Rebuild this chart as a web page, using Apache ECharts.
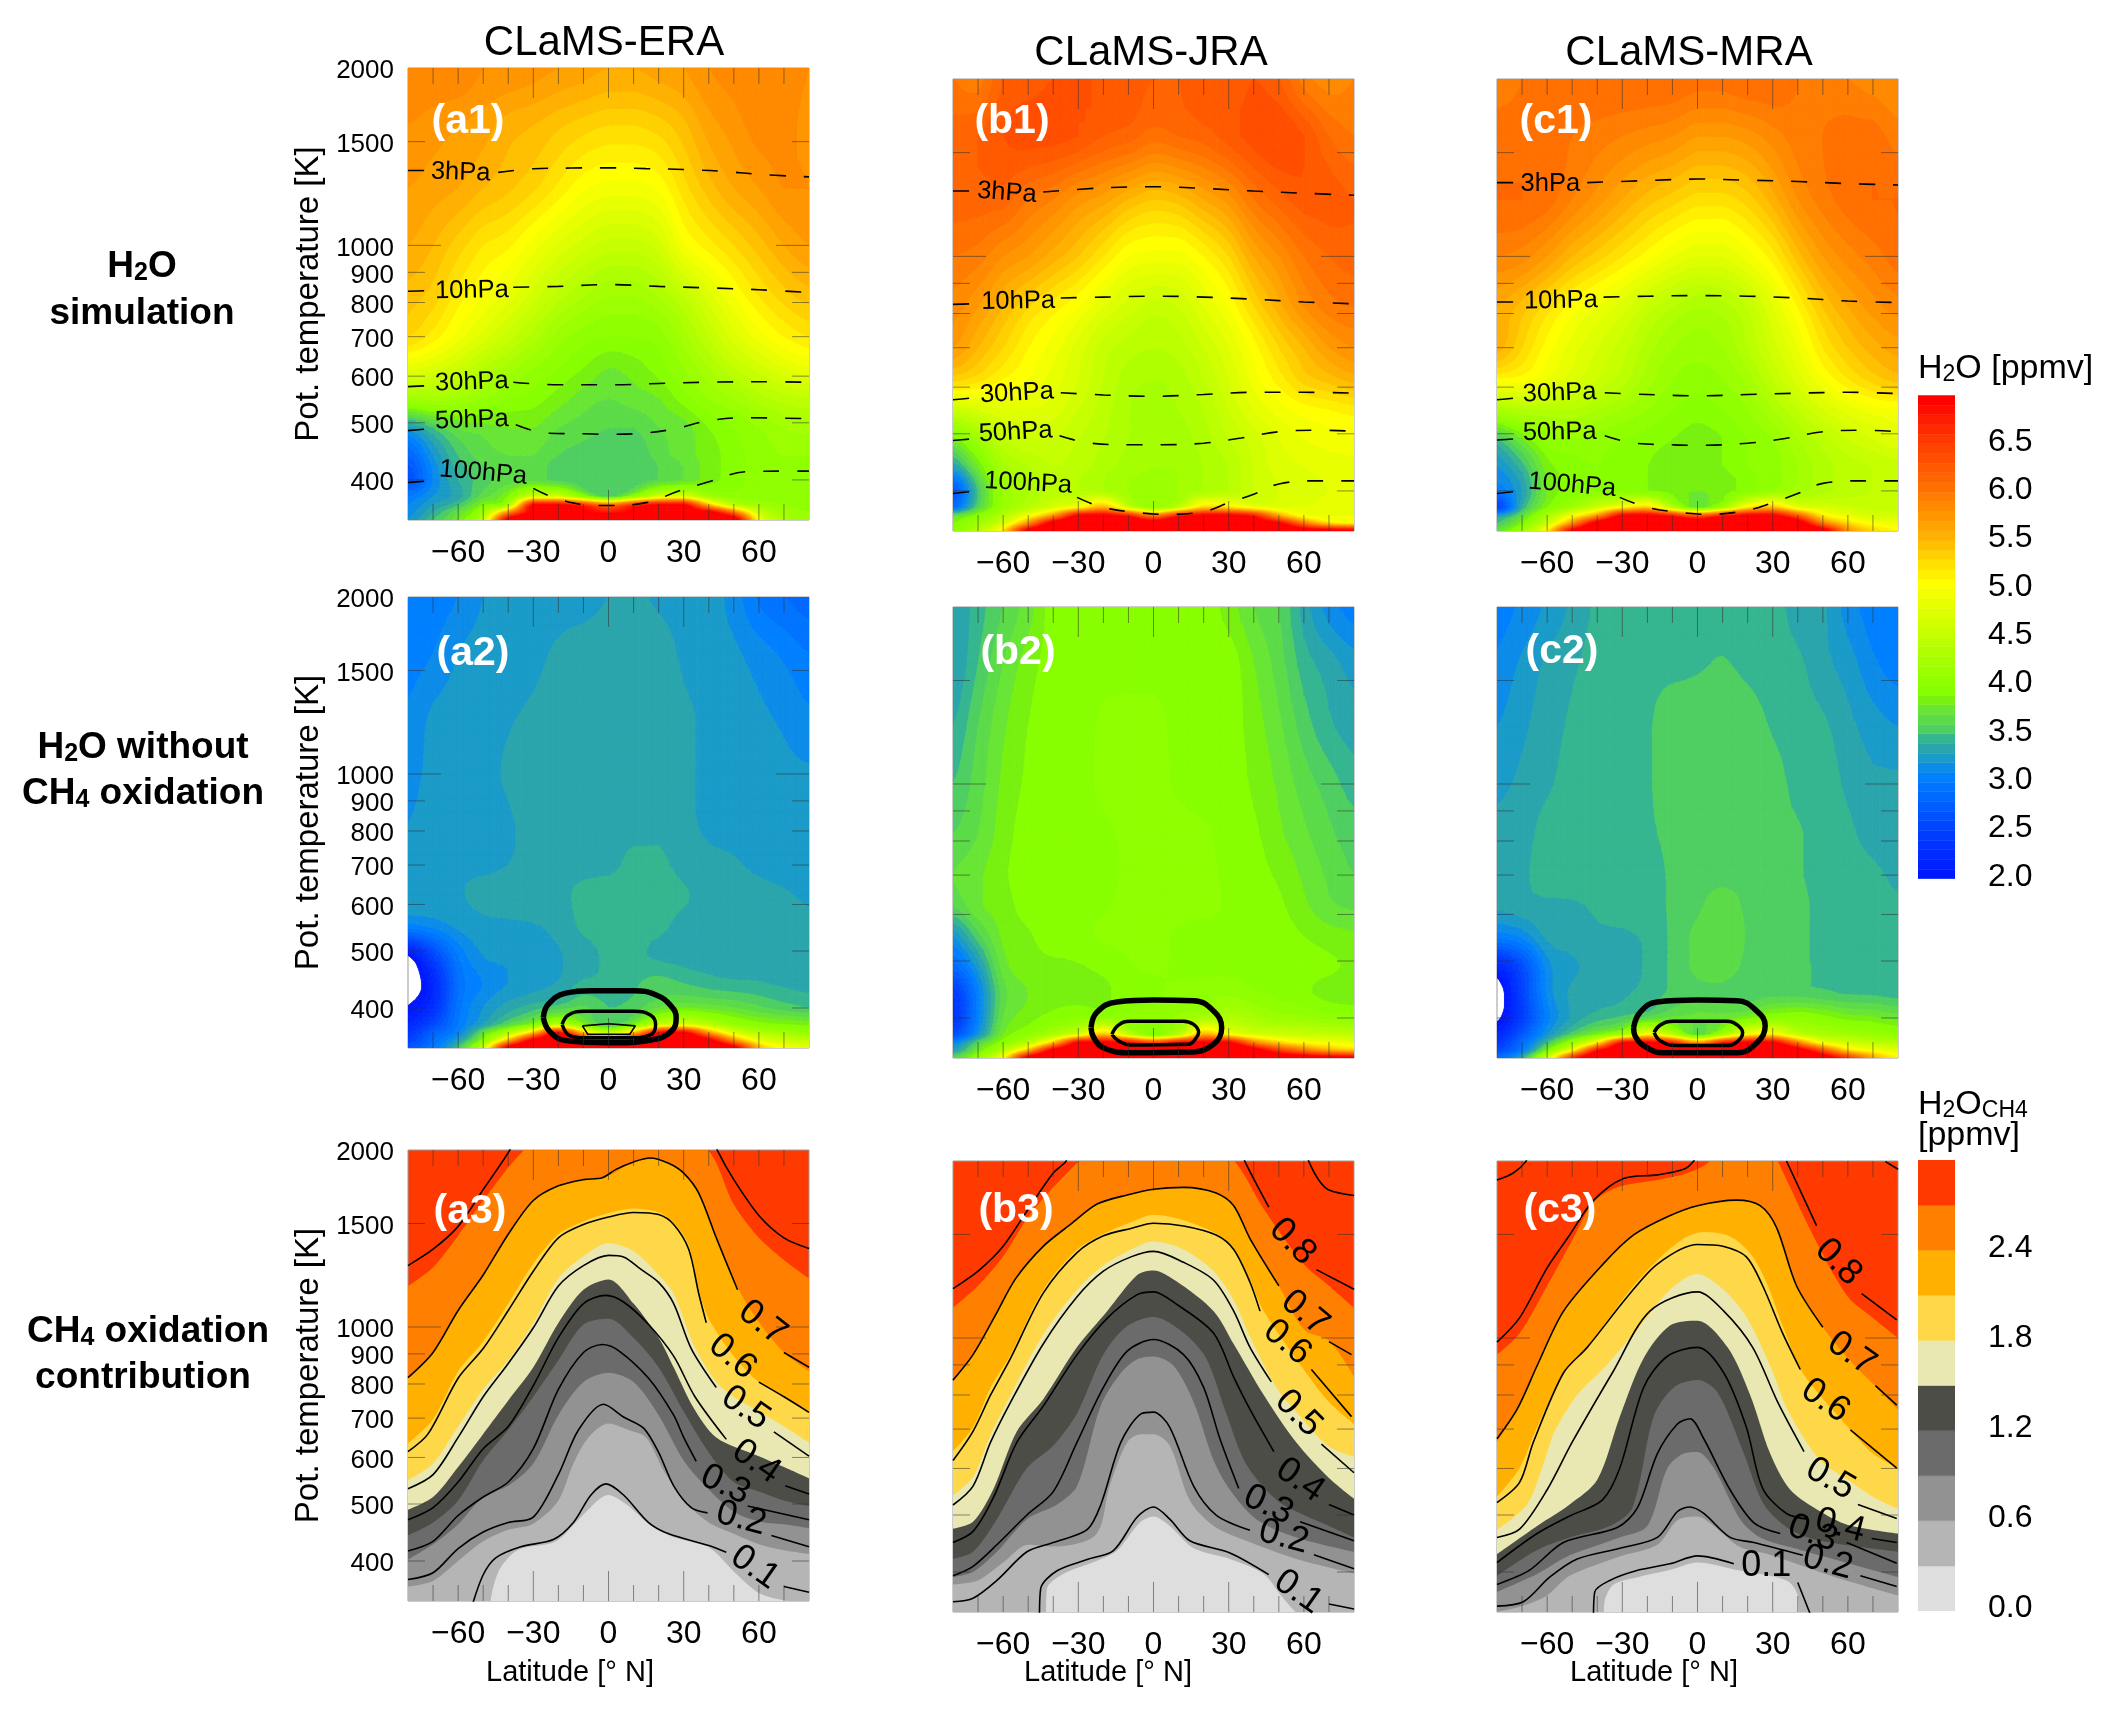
<!DOCTYPE html>
<html><head><meta charset="utf-8">
<style>html,body{margin:0;padding:0;background:#fff}#c{width:2114px;height:1710px}</style>
<script src="https://cdn.jsdelivr.net/npm/echarts@6/dist/echarts.min.js"></script>
</head><body><div id="c"></div>
<script>
// ---------- axes ----------
const latNodes=[-80,-70,-60,-50,-40,-30,-20,-10,0,10,20,30,40,50,60,70,80];
const thetaNodes=[2000,1600,1250,1000,820,700,620,550,490,440,400,375,362,352,342];
const xLabelValues=[-60,-30,0,30,60];
const yLabelValues=[2000,1500,1000,900,800,700,600,500,400];
const xTicksLong=[-30,0,30];
const xTicksShort=[-70,-60,-50,-40,-20,-10,10,20,40,50,60,70];
const yTicksLong=[1000];
const yTicksShort=[1500,900,800,700,600,500,400];
const h2oBarTicks=[2,2.5,3,3.5,4,4.5,5,5.5,6,6.5];
const ch4BarTicks=[0,0.6,1.2,1.8,2.4];
const ch4Levels=[0,0.3,0.6,0.9,1.2,1.5,1.8,2.1,2.4,2.7];
const ch4Colors=['#DEDEDE','#B5B5B5','#929292','#6B6B6B','#4D4D47','#E9E8B3','#FFD84A','#FFB000','#FF8000','#FF3A00'];
const h2oAnchorV=[2.05,2.5,3.05,3.15,3.25,3.35,3.45,3.55,3.65,3.75,3.85,3.95,4.05,4.5,5.05,5.25,5.55,6.05,6.55,6.95];
const h2oAnchorC=['#0018ff','#0040ff','#0080ff','#0c8ce8','#1a9bc8','#2aa5ac','#35b590','#4fce62','#5cdb48','#68e535','#78f010','#88ff00','#90ff00','#c0ff00','#ffff00','#ffe000','#ffb000','#ff7000','#ff3800','#ff0000'];

// ---------- H2O fields (ppmv), rows follow thetaNodes, columns follow latNodes ----------
const a1Rows=[
[5.9,5.9,5.9,5.8,5.8,5.75,5.7,5.65,5.6,5.6,5.65,5.7,5.8,5.85,5.9,5.9,5.8],
[5.8,5.75,5.7,5.65,5.55,5.5,5.42,5.35,5.3,5.3,5.35,5.47,5.65,5.75,5.85,5.85,5.75],
[5.7,5.65,5.6,5.5,5.42,5.32,5.17,5.02,4.95,4.95,5.02,5.25,5.45,5.6,5.7,5.8,5.8],
[5.6,5.5,5.35,5.2,5.12,4.95,4.78,4.65,4.55,4.55,4.65,4.98,5.15,5.3,5.45,5.6,5.7],
[5.45,5.35,5.15,5,4.85,4.65,4.45,4.3,4.2,4.2,4.3,4.5,4.75,5,5.2,5.35,5.45],
[5.3,5.15,4.95,4.75,4.55,4.35,4.15,4.05,4,4,4.05,4.25,4.5,4.75,4.95,5.1,5.2],
[4.85,4.75,4.6,4.4,4.25,4.1,4,3.9,3.8,3.85,3.95,4.1,4.3,4.5,4.65,4.8,4.9],
[4.2,4.25,4.2,4.1,4,3.95,3.85,3.75,3.7,3.75,3.8,3.95,4.1,4.2,4.35,4.45,4.5],
[3.25,3.5,3.7,3.75,3.8,3.8,3.7,3.65,3.6,3.6,3.7,3.75,3.9,4,4.1,4.2,4.25],
[2.8,3.2,3.5,3.65,3.7,3.7,3.6,3.55,3.5,3.5,3.65,3.75,3.85,3.95,4.05,4.1,4.1],
[2.6,3.1,3.4,3.55,3.65,3.65,3.55,3.5,3.5,3.5,3.6,3.7,3.85,3.95,4.05,4.05,4],
[3,3.2,3.35,3.65,3.9,4.6,4.6,4,3.5,4,4.6,4.7,4.2,4.05,4.05,4.05,4],
[3.1,3.3,3.5,3.9,4.3,7,7,6.6,6,6.6,7,7,5.5,4.5,4.2,4.1,4.05],
[3.15,3.4,3.7,4.2,5.8,7.1,7.1,7,6.8,7,7.1,7.1,7.1,6,4.6,4.2,4.1],
[3.2,3.5,3.8,4.5,7.1,7.5,7.5,7.5,7.5,7.5,7.5,7.5,7.5,7.3,5,4.3,4.1]];
const b1Rows=[
[6,5.95,6.2,6.25,6.3,6.3,6.3,6.25,6.2,6.2,6.25,6.2,6.3,6.2,5.95,5.85,5.9],
[6.15,6.2,6.3,6.35,6.35,6.3,6.2,6.15,6.05,6.1,6.15,6.25,6.35,6.4,6.3,6.1,6],
[6.15,6.15,6.15,6,5.9,5.75,5.65,5.5,5.4,5.45,5.6,5.75,6,6.15,6.25,6.25,6.2],
[6,5.95,5.8,5.7,5.55,5.4,5.2,5,4.95,4.95,5.1,5.3,5.6,5.8,6,6.1,6.15],
[5.85,5.7,5.5,5.3,5.15,5,4.8,4.65,4.55,4.6,4.8,5,5.3,5.55,5.8,5.95,6],
[5.7,5.5,5.3,5.1,4.95,4.75,4.55,4.45,4.4,4.45,4.6,4.8,5.05,5.3,5.5,5.7,5.8],
[5.35,5.25,5.1,5,4.85,4.7,4.5,4.35,4.3,4.35,4.5,4.7,4.95,5.15,5.35,5.45,5.55],
[4.6,4.7,4.8,4.8,4.75,4.6,4.45,4.3,4.25,4.3,4.4,4.6,4.8,4.95,5.05,5.1,5.15],
[3.85,4.2,4.5,4.6,4.6,4.5,4.4,4.3,4.25,4.25,4.35,4.5,4.65,4.8,4.9,4.95,5],
[3.3,3.8,4.25,4.4,4.5,4.45,4.35,4.25,4.2,4.2,4.3,4.4,4.6,4.75,4.8,4.85,4.85],
[2.7,3.5,4.1,4.3,4.45,4.4,4.3,4.2,4.15,4.2,4.3,4.4,4.6,4.7,4.75,4.8,4.85],
[2.9,3.6,4.1,4.4,4.7,5,5.5,4.6,4.1,4.5,5.3,5.2,4.9,4.8,4.8,4.85,4.85],
[3.7,4,4.4,5,5.8,7.1,7.1,6.8,6,6.8,7.1,7.1,6.8,5.7,5,4.9,4.9],
[3.9,4.2,4.7,5.8,7.2,7.5,7.5,7.5,7.3,7.5,7.5,7.5,7.2,7,6,5.3,5.1],
[4,4.4,5.2,7.1,7.5,7.5,7.5,7.5,7.5,7.5,7.5,7.5,7.5,7.4,7.2,7.1,7]];
const c1Rows=[
[5.95,6,6.05,6.05,6.1,6.1,6.1,6.1,6.05,6.05,6.1,6.1,6,5.95,5.9,5.85,5.8],
[6.05,6.05,6.05,6,5.95,5.9,5.85,5.8,5.7,5.7,5.75,5.85,5.95,6,6.05,6.05,5.95],
[6.1,6.1,6.05,5.9,5.75,5.6,5.45,5.35,5.25,5.25,5.35,5.55,5.8,5.95,6.05,6.1,6.1],
[5.9,5.85,5.7,5.5,5.35,5.2,5.05,4.9,4.8,4.8,4.95,5.15,5.45,5.7,5.85,5.95,6.05],
[5.6,5.45,5.25,5.05,4.9,4.75,4.55,4.4,4.3,4.35,4.5,4.8,5.1,5.4,5.6,5.75,5.85],
[5.55,5.3,5.05,4.85,4.7,4.55,4.35,4.2,4.15,4.2,4.4,4.65,4.9,5.2,5.4,5.55,5.65],
[5.1,5.05,4.9,4.75,4.6,4.45,4.25,4.1,4.05,4.1,4.25,4.5,4.75,5,5.2,5.35,5.45],
[4.3,4.4,4.4,4.4,4.3,4.2,4.1,4,3.95,4,4.1,4.3,4.5,4.7,4.85,4.95,5],
[3.5,3.8,4.05,4.1,4.05,4,3.95,3.9,3.85,3.9,4,4.1,4.3,4.45,4.6,4.7,4.8],
[3.2,3.45,3.85,3.95,4,3.95,3.9,3.85,3.85,3.9,4,4.05,4.2,4.35,4.45,4.5,4.55],
[3,3.3,3.8,3.95,4,3.95,3.9,3.85,3.8,3.85,3.95,4.1,4.25,4.35,4.45,4.5,4.5],
[2.5,3.4,3.9,4.2,4.6,5,5.3,4.4,3.7,4.2,5.1,5.4,4.8,4.7,4.6,4.55,4.55],
[3.3,3.7,4.3,5,5.8,7.1,7.1,6.8,6.3,6.8,7.1,7.1,6.3,5.2,4.9,4.7,4.7],
[3.5,3.9,4.6,5.8,7.2,7.5,7.5,7.5,7.3,7.5,7.5,7.5,7.3,6,5.3,5,4.9],
[3.7,4.2,5.1,7,7.5,7.5,7.5,7.5,7.5,7.5,7.5,7.5,7.5,7.2,5.8,5.3,5.1]];
const a2Rows=[
[3.05,3.05,3.1,3.2,3.25,3.25,3.25,3.25,3.3,3.32,3.28,3.25,3.25,3.15,2.98,2.9,2.85],
[3.05,3.1,3.2,3.25,3.25,3.27,3.32,3.36,3.38,3.38,3.36,3.28,3.25,3.22,3.15,3.08,3],
[3.12,3.22,3.25,3.27,3.29,3.32,3.36,3.37,3.38,3.38,3.36,3.32,3.28,3.26,3.22,3.18,3.12],
[3.18,3.22,3.26,3.28,3.31,3.35,3.38,3.38,3.38,3.38,3.37,3.32,3.28,3.26,3.24,3.22,3.21],
[3.2,3.22,3.25,3.27,3.29,3.33,3.37,3.38,3.38,3.38,3.38,3.33,3.28,3.27,3.25,3.23,3.2],
[3.2,3.27,3.28,3.28,3.3,3.33,3.37,3.38,3.38,3.42,3.42,3.37,3.33,3.31,3.28,3.26,3.24],
[3.26,3.27,3.29,3.33,3.35,3.37,3.38,3.42,3.44,3.45,3.44,3.41,3.37,3.35,3.33,3.31,3.29],
[3.05,3.12,3.22,3.27,3.28,3.29,3.33,3.42,3.44,3.44,3.42,3.37,3.35,3.34,3.33,3.32,3.31],
[1.98,2.5,3,3.2,3.22,3.26,3.29,3.35,3.42,3.42,3.38,3.36,3.35,3.34,3.33,3.33,3.32],
[1.85,2.2,2.9,3.1,3.2,3.25,3.31,3.42,3.42,3.48,3.55,3.5,3.45,3.42,3.41,3.38,3.36],
[2.02,2.3,2.95,3.2,3.35,3.45,3.55,3.62,3.5,3.55,3.7,3.8,3.75,3.7,3.62,3.55,3.5],
[2.2,2.55,3,3.3,3.6,3.9,4.4,3.9,3.5,3.85,4.5,4.7,4.4,4.1,3.95,3.9,3.85],
[2.4,2.8,3.1,3.7,4.4,5.5,7,5.5,4.6,5.5,7,7.1,5.8,4.8,4.4,4.25,4.1],
[2.5,2.9,3.3,4,5.5,7.1,7.3,7.1,7,7.1,7.3,7.3,7.1,5.8,4.9,4.6,4.5],
[2.7,3,3.5,4.6,7.1,7.5,7.5,7.5,7.5,7.5,7.5,7.5,7.5,7.1,5.5,5,4.8]];
const b2Rows=[
[3.3,3.45,3.6,3.75,3.95,3.96,3.96,3.97,3.97,3.97,3.96,3.85,3.7,3.6,3.35,3.15,3.05],
[3.3,3.5,3.7,3.85,3.95,3.97,3.98,3.98,3.98,3.98,3.97,3.96,3.8,3.65,3.45,3.35,3.25],
[3.4,3.6,3.78,3.9,3.96,3.97,4.01,4.02,4.02,3.98,3.97,3.95,3.85,3.72,3.55,3.42,3.35],
[3.5,3.65,3.82,3.92,3.97,3.98,4.01,4.02,4.02,3.99,3.97,3.96,3.88,3.78,3.65,3.55,3.45],
[3.6,3.7,3.85,3.95,3.97,3.98,3.99,4.01,4.02,4.02,4.01,3.97,3.92,3.82,3.72,3.62,3.55],
[3.7,3.78,3.88,3.96,3.97,3.98,3.98,4.01,4.02,4.02,4.02,3.98,3.94,3.88,3.78,3.68,3.6],
[3.6,3.78,3.85,3.95,3.97,3.98,3.99,4.02,4.02,4.02,4.02,3.99,3.96,3.92,3.82,3.72,3.68],
[3.2,3.55,3.82,3.88,3.97,3.98,4.01,4.02,4.02,3.99,3.97,3.97,3.97,3.95,3.9,3.85,3.82],
[2.85,3.25,3.75,3.85,3.87,3.89,3.93,3.99,4.01,3.99,3.98,3.97,3.96,3.96,3.95,3.92,3.88],
[2.4,3.05,3.65,3.8,3.85,3.87,3.88,3.95,3.98,4.02,4.05,4.08,4.02,3.97,3.92,3.86,3.84],
[2.35,3.05,3.7,3.85,3.95,4.02,4.05,4.05,4.02,4.12,4.25,4.35,4.25,4.15,4.12,4.05,4.02],
[2.6,3.2,3.8,4.02,4.3,4.7,5.4,4.5,3.9,4.4,5.5,5,4.7,4.6,4.55,4.5,4.45],
[3.1,3.6,4.02,4.5,5.5,7.1,7.1,7,6.5,7,7.1,7.1,6,5.4,5.1,5,4.9],
[3.3,3.8,4.4,5.5,7.1,7.4,7.4,7.4,7.4,7.4,7.4,7.4,7.2,6.5,6,5.6,5.4],
[3.6,4.1,5,7.1,7.5,7.5,7.5,7.5,7.5,7.5,7.5,7.5,7.5,7.3,7.2,7.1,7]];
const c2Rows=[
[3.05,3.12,3.22,3.32,3.42,3.45,3.48,3.48,3.48,3.48,3.48,3.45,3.35,3.32,3.15,3.05,3.02],
[3.12,3.22,3.32,3.38,3.45,3.48,3.48,3.48,3.49,3.505,3.48,3.45,3.42,3.33,3.25,3.12,3.05],
[3.2,3.28,3.35,3.42,3.48,3.48,3.49,3.55,3.56,3.56,3.55,3.49,3.45,3.42,3.33,3.25,3.2],
[3.28,3.32,3.38,3.45,3.48,3.48,3.49,3.55,3.57,3.57,3.57,3.54,3.47,3.45,3.38,3.32,3.32],
[3.32,3.35,3.45,3.49,3.48,3.49,3.49,3.52,3.56,3.57,3.57,3.53,3.51,3.46,3.42,3.36,3.32],
[3.35,3.38,3.45,3.48,3.48,3.48,3.48,3.51,3.56,3.57,3.57,3.56,3.51,3.47,3.44,3.42,3.38],
[3.32,3.36,3.38,3.38,3.42,3.45,3.48,3.51,3.58,3.65,3.58,3.55,3.52,3.48,3.47,3.42,3.41],
[3.02,3.12,3.32,3.35,3.38,3.38,3.42,3.52,3.63,3.67,3.59,3.53,3.51,3.49,3.48,3.45,3.41],
[2.2,2.6,3.15,3.28,3.32,3.32,3.42,3.52,3.63,3.66,3.57,3.51,3.51,3.49,3.48,3.46,3.43],
[1.85,2.5,3.12,3.32,3.35,3.38,3.45,3.52,3.58,3.58,3.54,3.56,3.55,3.52,3.49,3.48,3.45],
[1.95,2.45,3.05,3.32,3.45,3.52,3.62,3.72,3.72,3.75,3.85,4.02,4.02,3.95,3.85,3.82,3.75],
[2.2,2.7,3.2,3.55,3.85,4.2,5,4.4,3.62,4.2,5,5.1,4.5,4.3,4.2,4.12,4.05],
[2.4,2.9,3.5,4.2,5.2,7,7.1,6.8,5.8,6.8,7.1,7.1,6,5,4.7,4.5,4.4],
[2.6,3.02,3.9,5,6.8,7.3,7.4,7.4,7.4,7.4,7.4,7.4,7.2,6.3,5.3,5,4.8],
[2.9,3.4,4.6,6.5,7.5,7.5,7.5,7.5,7.5,7.5,7.5,7.5,7.5,7.2,6.5,5.6,5.1]];

// ---------- isobars, [lat, theta], null = gap for the label ----------
const a1P3=[[-80,1340],[-72,1340],null,[-44,1330],[-30,1349],[-15,1353],[0,1354],[15,1350],[30,1345],[45,1336],[60,1320],[80,1307]];
const a1P10=[[-80,836],[-72,838],null,[-38,849],[-20,852],[0,858],[20,852],[40,847],[60,841],[80,832]];
const a1P30=[[-80,576],[-72,578],null,[-38,586],[-20,580],[0,580],[20,583],[40,586],[60,587],[80,586]];
const a1P50=[[-80,485],[-72,488],null,[-37,496],[-24,480],[-10,479],[0,478],[10,479],[25,487],[40,504],[55,510],[80,508]];
const a1P100=[[-80,396],[-73,398],null,[-30,387],[-20,371],[-5,362],[0,362],[15,366],[28,383],[40,397],[55,413],[70,414],[80,414]];
const b1P3=[[-80,1291],[-73,1291],null,[-44,1286],[-20,1307],[0,1313],[20,1304],[40,1291],[60,1280],[80,1270]];
const b1P10=[[-80,829],[-73,831],null,[-37,850],[-20,853],[0,856],[20,853],[40,846],[60,837],[80,831]];
const b1P30=[[-80,571],[-73,575],null,[-37,587],[-20,582],[0,579],[20,583],[40,588],[60,588],[80,586]];
const b1P50=[[-80,487],[-73,490],null,[-37.5,496],[-25,482],[-10,479],[0,479],[20,482],[35,492],[50,504],[65,507],[80,505]];
const b1P100=[[-80,396],[-73,399],null,[-30.5,390],[-20,375],[-5,367],[5,365],[20,369],[30,382],[40,395],[50,411],[65,416],[80,416]];
const c1P3=[[-80,1334],[-73,1334],null,[-44,1334],[-20,1345],[0,1353],[20,1347],[40,1340],[60,1329],[80,1322]];
const c1P10=[[-80,837],[-73,837],null,[-37.5,853],[-20,856],[0,858],[20,856],[40,850],[60,840],[80,835]];
const c1P30=[[-80,571],[-73,575],null,[-37,587],[-20,583],[0,580],[20,583],[40,586],[60,588],[80,585]];
const c1P50=[[-80,488],[-73,490],null,[-37,496],[-25,482],[-10,479],[0,478],[20,482],[35,491],[50,504],[65,507],[80,504]];
const c1P100=[[-80,396],[-73,399],null,[-31,390],[-20,375],[-5,367],[5,365],[20,371],[30,382],[40,396],[50,412],[65,416],[80,416]];
const a1Text=[['3hPa',-59,1330,-2],['10hPa',-54.5,838,1],['30hPa',-54.5,586,2],['50hPa',-54.5,505,2],['100hPa',-50,411,-5]];
const b1Text=[['3hPa',-58.5,1282,-4],['10hPa',-54,839,1],['30hPa',-54.5,586,3],['50hPa',-55,503,3],['100hPa',-50,412,-3]];
const c1Text=[['3hPa',-58.7,1327,0],['10hPa',-54.5,841,1],['30hPa',-55,586,2],['50hPa',-55,503,1],['100hPa',-50,409,-5]];

// ---------- closed loops in the H2O without CH4 panels ----------
const a2Loop1=[[-26,385],[-24,406],[-17,424],[-7,428],[10,428],[19,421],[25,403],[27,385],[25,365],[17,353],[0,349],[-17,352],[-23.5,365],[-26,385]];
const a2Loop2=[[-18.5,375],[-16,389],[-9.7,395],[10,395],[16.7,389],[18.8,375],[16.7,360],[8.8,356],[-9.7,356],[-15.4,359],[-18.5,375]];
const a2Loop3=[[-10.4,373],[0,376],[10.7,373],[8.5,361],[-8.3,361],[-10.4,373]];
const b2Loop1=[[-24.9,385],[-22.6,409],[-14.6,426],[0,429],[16,428],[24,411],[27.2,385],[24,361],[14.6,350],[-9.3,349],[-20,356],[-23.9,371],[-24.9,385]];
const b2Loop2=[[-16.6,375],[-14,389],[-9.3,395],[12,395],[16,390],[18,378],[16.6,368],[14,361],[-9.3,360],[-14,366],[-16.6,375]];
const c2Loop1=[[-25.5,385],[-22.9,409],[-16.2,426],[0,429],[15.7,428],[23.7,411],[27,388],[23.7,363],[15.7,349],[-13.6,349],[-21.5,359],[-24.9,373],[-25.5,385]];
const c2Loop2=[[-17.3,378],[-14.9,389],[-9.6,395],[11.7,395],[16.3,388],[18,377],[15.7,364],[11.7,359],[-8.2,359],[-14.9,366],[-17.3,378]];

// ---------- CH4 contribution, filled level boundaries, [lat, theta] ----------
const a3F27=[[-80,1174],[-70,1263],[-60,1430],[-50,1641],[-40,1868],[-34,1995],[-20,2300],[0,2400],[20,2300],[40,1995],[50,1616],[60,1418],[70,1300],[80,1209]];
const a3F24=[[-80,820],[-70,905],[-60,1067],[-50,1226],[-40,1438],[-30,1641],[-20,1738],[-10,1781],[0,1810],[10,1909],[20,1930],[30,1827],[36,1689],[43,1418],[52,1157],[60,1020],[70,905],[80,841]];
const a3F21=[[-80,634],[-70,697],[-60,841],[-50,945],[-40,1096],[-30,1282],[-20,1438],[-10,1512],[0,1562],[10,1590],[20,1566],[26,1503],[32,1378],[36,1157],[40,1033],[50,892],[60,806],[70,761],[80,713]];
const a3F18=[[-80,549],[-70,586],[-60,677],[-50,783],[-40,878],[-30,1016],[-20,1209],[-10,1319],[0,1388],[10,1345],[20,1226],[26,1140],[34,932],[43,806],[50,761],[60,718],[70,677],[80,636]];
const a3F15=[[-80,489],[-70,514],[-60,578],[-50,658],[-40,750],[-30,854],[-20,1016],[-10,1157],[0,1205],[10,1096],[20,959],[26,854],[34,728],[43,649],[60,603],[70,578],[80,553]];
const a3F12=[[-80,442],[-70,465],[-60,507],[-50,593],[-40,668],[-30,761],[-20,878],[-10,1010],[0,1033],[10,959],[20,854],[30,718],[40,612],[50,545],[60,525],[70,507],[80,496]];
const a3F09=[[-80,402],[-70,427],[-60,462],[-50,514],[-40,537],[-30,586],[-20,708],[-10,806],[0,836],[10,806],[20,708],[30,593],[40,529],[50,485],[60,467],[70,462],[80,455]];
const a3F06=[[-80,362],[-70,370],[-60,400],[-50,432],[-40,452],[-30,463],[-20,507],[-14,586],[-8,649],[0,685],[8,668],[15,649],[22,570],[30,507],[40,465],[50,445],[60,427],[70,417],[80,411]];
const a3F03=[[-80,330],[-48,332],[-47.5,335],[-46,361],[-43,390],[-36,418],[-21,432],[-10,480],[0,518],[7,500],[16,463],[26,439],[40,422],[50,384],[60,353],[70,343],[80,340]];
const b3F27=[[-80,1126],[-70,1227],[-60,1376],[-50,1606],[-40,1804],[-30,1995],[-15,2300],[0,2400],[15,2300],[32.5,1995],[44,1658],[60,1335],[70,1227],[80,1126]];
const b3F24=[[-80,848],[-72,937],[-63,1095],[-55,1262],[-44,1432],[-33,1562],[-22.5,1690],[-10.5,1751],[0,1791],[12,1804],[25,1765],[32,1679],[38.5,1476],[50,1227],[60,1034],[70,990],[80,860]];
const b3F21=[[-80,642],[-72,705],[-65,824],[-57,937],[-44,1208],[-30.5,1414],[-20,1503],[-9,1574],[0,1620],[12,1586],[25,1505],[32,1422],[38.5,1254],[44,1111],[60,884],[70,778],[80,714]];
const b3F18=[[-80,540],[-72,580],[-65,684],[-57,800],[-44,1014],[-30.5,1208],[-20,1328],[-9,1414],[0,1459],[12,1414],[24,1299],[32,1159],[38.5,1005],[49,824],[60,724],[70,654],[80,628]];
const b3F15=[[-80,474],[-72,487],[-64,552],[-54.5,694],[-44,787],[-30.5,965],[-18.5,1111],[-6.5,1280],[0,1303],[9,1250],[24,1111],[32,977],[44,800],[57,664],[70,578],[80,533]];
const b3F12=[[-80,421],[-72,433],[-62.5,492],[-50.5,601],[-40,656],[-30.5,745],[-20,937],[-10.5,1048],[0,1086],[12,1021],[21,924],[29,745],[37,610],[49,531],[60,500],[70,479],[80,458]];
const b3F09=[[-80,392],[-72,400],[-62.5,433],[-50.5,492],[-38.5,521],[-30.5,560],[-21,768],[-13,872],[-6.5,920],[0,930],[8,897],[16,778],[24,619],[30.5,552],[41,492],[57,458],[80,433]];
const b3F06=[[-80,381],[-70,387],[-60,415],[-50,445],[-40,442],[-23,463],[-17.5,560],[-10.5,665],[-5,686],[0,686],[6.5,656],[14.5,529],[24,479],[37,452],[57,421],[80,398]];
const b3F03=[[-80,330],[-43.5,332],[-43,335],[-42.5,375],[-36,397],[-22.5,418],[-14.5,435],[-5.5,485],[0,497],[6.5,479],[16,439],[30.5,421],[44,397],[52,360],[60,335],[80,330]];
const c3F27=[[-80,937],[-71,1018],[-60,1227],[-49.5,1480],[-41.5,1700],[-32,1804],[-16,1856],[-4,1908],[5,2000],[15,2300],[25,2300],[32,2000],[47.5,1455],[60,1175],[70,1082],[80,1000]];
const c3F24=[[-80,665],[-72,756],[-64,897],[-53.5,1110],[-37.5,1338],[-25.5,1497],[-12,1608],[0,1679],[15.5,1716],[25,1679],[31.5,1542],[39.5,1227],[50,1043],[60,924],[70,836],[80,756]];
const c3F21=[[-80,537],[-71,601],[-64,705],[-53.5,872],[-44,964],[-28,1192],[-16,1356],[-5.5,1476],[2.5,1514],[13,1488],[21,1393],[27.5,1244],[34,1048],[42,872],[60,706],[70,636],[80,601]];
const c3F18=[[-80,472],[-68,521],[-61,619],[-57,694],[-48,800],[-37.5,888],[-24,1034],[-11,1208],[0,1285],[10.5,1208],[19.5,1086],[29,897],[36.5,746],[49,619],[60,574],[70,537],[80,512]];
const c3F15=[[-80,429],[-64,479],[-51,521],[-40,574],[-31,735],[-21.5,924],[-11,1050],[0,1070],[12,964],[21,800],[29,636],[37,552],[49,507],[60,481],[80,465]];
const c3F12=[[-80,394],[-64,436],[-51,458],[-35,479],[-26,514],[-17.5,735],[-9.5,824],[0,848],[8,808],[18.5,636],[26.5,521],[37,472],[49,452],[80,433]];
const c3F09=[[-80,370],[-64,397],[-51,427],[-31,458],[-20,479],[-12,601],[-5.5,636],[0,640],[6.5,601],[17,492],[25,458],[37,441],[80,392]];
const c3F06=[[-80,342],[-70,350],[-60,365],[-51,394],[-31,425],[-16,445],[-8,490],[0,497],[6.5,479],[17,441],[29,428],[55,392],[80,365]];
const c3F03=[[-80,330],[-38,332],[-37.5,335],[-37,358],[-33.5,381],[-24,392],[-11,403],[0,415],[15.5,403],[35.5,387],[40,365],[40.5,335],[41,330],[80,330]];

// ---------- fraction contours ----------
const a3C8=[[-80,1272],[-70,1356],[-60,1483],[-50,1713],[-39.5,1995],[-39,2050],null,[43,2050],[43.5,1995],[50,1781],[60,1548],[70,1418],[80,1360]];
const a3C7=[[-80,820],[-70,905],[-60,1067],[-50,1226],[-40,1438],[-30,1641],[-20,1738],[-10,1781],[-2.5,1794],[3,1854],[10,1909],[16.5,1938],[24,1899],[30,1827],[36,1689],[43,1418],[51.5,1157],null,[70,905],[80,854]];
const a3C6=[[-80,614],[-72,658],[-60,818],[-50,919],[-40,1067],[-30,1244],[-20,1418],[-10,1494],[0,1538],[10,1566],[20,1553],[26,1494],[32,1356],[36,1140],[39,1017],null,[60,806],[70,761],[80,716]];
const a3C5=[[-80,531],[-70,561],[-60,649],[-50,761],[-40,867],[-30,997],[-20,1174],[-10,1272],[0,1324],[6,1316],[13,1253],[20,1191],[26,1096],[33,919],[43,789],null,[66,663],[80,603]];
const a3C4=[[-80,470],[-70,493],[-60,545],[-50,621],[-40,677],[-30,795],[-20,959],[-10,1096],[-1,1132],[6,1103],[16,1010],[26,892],[34.5,761],[47,644],null,[70.5,537],[80,520]];
const a3C3=[[-80,416],[-70,432],[-60,478],[-50,514],[-40,545],[-30,621],[-20,783],[-10,905],[-2.5,934],[4,912],[16,818],[26,708],[30,649],[35,591],null,[55.5,496],[80,470]];
const a3C2=[[-80,372],[-70,382],[-60,420],[-50,448],[-40,465],[-30,475],[-20,561],[-12,668],[-2,739],[6,703],[14,673],[20,612],[26,537],[33,493],[39.5,483],null,[65,442],[80,423]];
const a3C1=[[-54.5,335],[-50,379],[-45,405],[-35,423],[-22,435],[-14,465],[-7,518],[-1,541],[6,518],[16,465],[24,445],[40,425],[47,414],null,[70,362],[80,354]];
const b3C9=[[61.5,2050],[62,1995],[66,1855],[70,1785],[80,1747]];
const b3C8=[[-80,1213],[-70,1299],[-60,1432],[-50,1656],[-40,1908],[-35,1995],[-34.5,2050],null,[36,2050],[36.5,1995],[46,1670],null,[65,1307],[80,1210]];
const b3C7=[[-80,848],[-72,937],[-63,1095],[-55,1262],[-44,1432],[-33,1562],[-22.5,1690],[-10.5,1751],[0,1791],[12,1804],[25,1765],[32,1679],[38.5,1476],[50,1227],null,[70,986],[79,937]];
const b3C6=[[-80,619],[-72,694],[-65,800],[-57,924],[-44,1192],[-30.5,1397],[-20,1492],[-9,1536],[0,1567],[12,1551],[25,1497],[32,1414],[38.5,1244],[42.5,1111],null,[63,884],[79,735]];
const b3C5=[[-80,520],[-72,560],[-65,665],[-57,778],[-44,977],[-30.5,1175],[-20,1299],[-9,1374],[0,1404],[12,1345],[24,1254],[32,1111],[38.5,964],[47,842],null,[67,660],[80,590]];
const b3C4=[[-80,449],[-72,469],[-64,534],[-54.5,665],[-44,766],[-30.5,937],[-18.5,1080],[-6.5,1185],[0,1198],[9,1143],[24,1019],[32,858],[38.5,756],[48,641],null,[70,521],[80,500]];
const b3C3=[[-80,394],[-72,409],[-62.5,445],[-50.5,500],[-40,548],[-30.5,665],[-20,824],[-10.5,950],[0,994],[12,937],[20,824],[26.5,674],[34,555],null,[58.5,487],[80,452]];
const b3C2=[[-80,356],[-72,361],[-62.5,387],[-50.5,433],[-40,449],[-26.5,472],[-21,521],[-13,665],[-5,743],[0,748],[6.5,705],[16,560],[25,500],[38.5,471],null,[64,428],[80,405]];
const b3C1=[[-45.5,335],[-45,375],[-38.5,402],[-26.5,420],[-16,435],[-6.5,496],[0,516],[6.5,492],[14.5,452],[30.5,431],[46,396],null,[70,353],[80,346]];
const c3C9=[[-80,1856],[-73.5,1908],[-68.5,1995],[-68,2050],null,[75,1995],[80,1936]];
const c3C8=[[-80,984],[-71,1082],[-60,1316],[-51,1497],[-41.5,1714],[-29.5,1868],[-16,1894],[-5.5,1936],[-1.5,2000],[-1,2050],null,[35.5,2000],[47.5,1553],null,[65.5,1190],[79.5,1074]];
const c3C7=[[-80,674],[-72,756],[-64,897],[-53.5,1110],[-37.5,1338],[-25.5,1497],[-12,1608],[0,1679],[15.5,1716],[25,1679],[31.5,1542],[39.5,1227],[50,1043],null,[71,830],[79.5,769]];
const c3C6=[[-80,525],[-71,568],[-65.5,665],[-53.5,872],[-44,964],[-28,1175],[-16,1336],[0,1442],[10.5,1431],[19.5,1374],[26,1227],[34,1018],[41,884],null,[61,698],[79.5,601]];
const c3C5=[[-80,458],[-71,473],[-60,552],[-50,665],[-34,872],[-19,1111],[0,1198],[10.5,1111],[22,964],[32,778],[42.5,641],null,[64,521],[79.5,493]];
const c3C4=[[-80,415],[-64,465],[-51,498],[-38,530],[-31,601],[-21.5,824],[-12,931],[0,964],[10.5,872],[19.5,705],[26,555],[35.5,503],[44,492],null,[69.5,456],[79.5,449]];
const c3C3=[[-80,381],[-67,403],[-53.5,449],[-32,476],[-24,514],[-16,636],[-8,714],[-3,729],[2.5,674],[13,552],[22.5,485],[33,465],null,[59.5,449],[79.5,414]];
const c3C2=[[-80,350],[-69.5,356],[-59,392],[-48,421],[-31,439],[-16,458],[-8,507],[-3,516],[2.5,503],[13,458],[22.5,449],[42,427],null,[65,394],[79.5,378]];
const c3C1=[[-41.5,335],[-41,370],[-35,387],[-24.5,402],[-11,413],[0,426],[14.5,413],null,[40,384],[45.5,335]];
const a3Text=[['0.7',61.5,1016,-38],['0.6',49.5,890,-40],['0.5',54.7,728,-35],['0.4',59,590,-35],['0.3',46.6,539,-25],['0.2',53,472,-15],['0.1',58.4,390,-35]];
const b3Text=[['0.8',55.5,1458,-45],['0.7',60.5,1103,-40],['0.6',53.4,983,-40],['0.5',57.8,744,-45],['0.4',58.5,573,-35],['0.3',45.8,520,-25],['0.2',52,459,-15],['0.1',57.8,370,-35]];
const c3Text=[['0.8',56.2,1346,-45],['0.7',61.5,940,-35],['0.6',51,782,-35],['0.5',53,576,-30],['0.4',57,479,-15],['0.3',46,465,-20],['0.2',52,415,-15],['0.1',27.4,410,0]];

// ---------- helpers ----------
const FONT='"Liberation Sans", Arial, sans-serif';
const BAND0=2,BANDSTEP=0.1,BANDN=50,R=4,EPS=1e-7;
function hex(c){return [1,3,5].map(i=>parseInt(c.substr(i,2),16));}
function h2oColor(v){
  if(v<=h2oAnchorV[0])return h2oAnchorC[0];
  for(let i=1;i<h2oAnchorV.length;i++){
    if(v<=h2oAnchorV[i]){
      const t=(v-h2oAnchorV[i-1])/(h2oAnchorV[i]-h2oAnchorV[i-1]),a=hex(h2oAnchorC[i-1]),b=hex(h2oAnchorC[i]);
      return 'rgb('+a.map((x,k)=>Math.round(x+(b[k]-x)*t)).join(',')+')';
    }
  }
  return h2oAnchorC[h2oAnchorC.length-1];
}
const bandColors=[];for(let k=0;k<BANDN;k++)bandColors.push(h2oColor(BAND0+(k+0.5)*BANDSTEP));
function bandOf(v){return v<BAND0-EPS?-1:Math.min(BANDN-1,Math.floor((v-BAND0)/BANDSTEP+1e-6));}
function cr(p0,p1,p2,p3,t){
  const v=0.5*(2*p1+(-p0+p2)*t+(2*p0-5*p1+4*p2-p3)*t*t+(-p0+3*p1-3*p2+p3)*t*t*t);
  return Math.max(Math.min(p1,p2),Math.min(Math.max(p1,p2),v));
}
function sample(rows,j,i,ft,fs){ // contour surface between read nodes
  const ny=rows.length,nx=rows[0].length,col=[];
  for(let jj=-1;jj<=2;jj++){
    const r=rows[Math.max(0,Math.min(ny-1,j+jj))];
    const at=k=>r[Math.max(0,Math.min(nx-1,k))];
    col.push(cr(at(i-1),at(i),at(i+1),at(i+2),fs));
  }
  return cr(col[0],col[1],col[2],col[3],ft);
}
function clipTri(pts,vals,lo,hi){
  let P=pts,V=vals;
  const pass=(limit,keep)=>{
    const nP=[],nV=[];
    for(let a=0;a<P.length;a++){
      const b=(a+1)%P.length,ina=keep(V[a]),inb=keep(V[b]);
      if(ina){nP.push(P[a]);nV.push(V[a]);}
      if(ina!==inb){
        const t=(limit-V[a])/(V[b]-V[a]);
        nP.push([P[a][0]+(P[b][0]-P[a][0])*t,P[a][1]+(P[b][1]-P[a][1])*t]);nV.push(limit);
      }
    }
    P=nP;V=nV;
  };
  pass(lo,v=>v>=lo);
  if(P.length&&isFinite(hi))pass(hi,v=>v<=hi);
  return P;
}
function poly(points,color){return {type:'polygon',silent:true,shape:{points},style:{fill:color,stroke:color,lineWidth:0.9}};}
function fieldSeries(gi,rows){
  const data=[];
  for(let j=0;j<thetaNodes.length-1;j++)for(let i=0;i<latNodes.length-1;i++)
    data.push([latNodes[i],thetaNodes[j],rows[j][i],i,j]);
  return {type:'custom',xAxisIndex:gi,yAxisIndex:gi,clip:true,silent:true,animation:false,z:2,data,
    encode:{x:0,y:1},
    renderItem(params,api){
      const i=api.value(3),j=api.value(4),ch=[];
      const c=[],v=[];
      for(let a=0;a<=R;a++){c.push([]);v.push([]);
        for(let b=0;b<=R;b++){
          const lat=latNodes[i]+(latNodes[i+1]-latNodes[i])*b/R;
          const th=Math.exp(Math.log(thetaNodes[j])+(Math.log(thetaNodes[j+1])-Math.log(thetaNodes[j]))*a/R);
          c[a].push(api.coord([lat,th]));
          v[a].push(sample(rows,j,i,a/R,b/R));
        }}
      for(let a=0;a<R;a++)for(let b=0;b<R;b++){
        const P=[c[a][b],c[a][b+1],c[a+1][b+1],c[a+1][b]],V=[v[a][b],v[a][b+1],v[a+1][b+1],v[a+1][b]];
        const bs=V.map(bandOf),mn=Math.min(...bs),mx=Math.max(...bs);
        if(mn===mx){if(mn>=0)ch.push(poly(P,bandColors[mn]));continue;}
        [[0,1,2],[0,2,3]].forEach(t=>{
          const tp=t.map(k=>P[k]),tv=t.map(k=>V[k]);
          const l=Math.min(...tv.map(bandOf)),h=Math.max(...tv.map(bandOf));
          if(l===h){if(l>=0)ch.push(poly(tp,bandColors[l]));return;}
          for(let k=Math.max(l,0);k<=h;k++){
            const lo=BAND0+k*BANDSTEP-EPS,hi=k===BANDN-1?Infinity:BAND0+(k+1)*BANDSTEP+EPS;
            const q=clipTri(tp,tv,lo,hi);
            if(q.length>=3)ch.push(poly(q,bandColors[k]));
          }
        });
      }
      return {type:'group',children:ch};
    }};
}
function lineSeries(gi,pts,style,smooth,z){
  const segs=[];let cur=[];
  pts.forEach(p=>{if(p===null){if(cur.length)segs.push(cur);cur=[];}else cur.push(p);});
  if(cur.length)segs.push(cur);
  return segs.map(s=>({type:'line',xAxisIndex:gi,yAxisIndex:gi,data:s,symbol:'none',smooth,smoothMonotone:null,
    silent:true,animation:false,clip:true,z:z||4,lineStyle:style,emphasis:{disabled:true}}));
}
function fillSeries(gi,pts,color){
  return {type:'line',xAxisIndex:gi,yAxisIndex:gi,data:pts,symbol:'none',smooth:0.3,silent:true,animation:false,clip:true,z:2,
    lineStyle:{width:0},areaStyle:{color,opacity:1,origin:'start'},emphasis:{disabled:true}};
}
function tickSeries(gi){
  const data=[];
  xTicksLong.forEach(v=>data.push([0,v,30]));xTicksShort.forEach(v=>data.push([0,v,16]));
  yTicksLong.forEach(v=>data.push([1,v,33]));yTicksShort.forEach(v=>data.push([1,v,17]));
  const st={stroke:'rgba(50,50,50,0.55)',lineWidth:1,fill:null};
  return {type:'custom',xAxisIndex:gi,yAxisIndex:gi,silent:true,animation:false,z:6,clip:false,data,
    encode:{x:[],y:[]},
    renderItem(params,api){
      const kind=api.value(0),val=api.value(1),len=api.value(2),cs=params.coordSys;
      if(kind===0){
        const x=api.coord([val,1000])[0];
        return {type:'group',children:[
          {type:'line',shape:{x1:x,y1:cs.y,x2:x,y2:cs.y+len},style:st},
          {type:'line',shape:{x1:x,y1:cs.y+cs.height,x2:x,y2:cs.y+cs.height-len},style:st}]};
      }
      const y=api.coord([0,val])[1];
      return {type:'group',children:[
        {type:'line',shape:{x1:cs.x,y1:y,x2:cs.x+len,y2:y},style:st},
        {type:'line',shape:{x1:cs.x+cs.width,y1:y,x2:cs.x+cs.width-len,y2:y},style:st}]};
    }};
}
function textSeries(gi,items,font){
  return {type:'custom',xAxisIndex:gi,yAxisIndex:gi,silent:true,animation:false,z:7,clip:false,
    data:items.map((t,k)=>[t[1],t[2],k]),encode:{x:0,y:1},
    renderItem(params,api){
      const k=api.value(2),t=items[k],p=api.coord([api.value(0),api.value(1)]);
      return {type:'text',x:p[0],y:p[1],rotation:t[3]*Math.PI/180,
        style:{text:t[0],font,fill:'#000',textAlign:'center',textVerticalAlign:'middle'}};
    }};
}

// ---------- layout ----------
const colLeft=[408,953,1497],panelW=401;
const rowTopA=[68,597,1150],rowTopBC=[79,607,1161],rowH=[452,451,451];
const grids=[],xAxes=[],yAxes=[],series=[];
function addPanel(col,row,bg){
  const gi=grids.length;
  grids.push({left:colLeft[col],top:(col===0?rowTopA:rowTopBC)[row],width:panelW,height:rowH[row],show:true,
    backgroundColor:bg||'#fff',borderWidth:1,borderColor:'#9a9a9a',containLabel:false});
  xAxes.push({gridIndex:gi,type:'value',min:-80,max:80,axisLine:{show:false},axisTick:{show:false},splitLine:{show:false},
    axisLabel:{customValues:xLabelValues,margin:17,fontSize:32,fontFamily:FONT,color:'#000',
      formatter:v=>(v<0?'\u2212':'')+Math.abs(v)}});
  yAxes.push({gridIndex:gi,type:'log',min:342,max:2000,axisLine:{show:false},axisTick:{show:false},splitLine:{show:false},
    minorTick:{show:false},minorSplitLine:{show:false},
    name:col===0?'Pot. temperature [K]':'',nameLocation:'middle',nameGap:83,nameTextStyle:{fontSize:33,fontFamily:FONT,color:'#000'},
    axisLabel:col===0?{customValues:yLabelValues,margin:14,color:'#000',
      formatter:v=>'{a|'+Math.round(v)+'}',rich:{a:{fontSize:26,fontFamily:FONT,color:'#000',padding:[6,0,0,0]}}}:{show:false}});
  series.push(tickSeries(gi));
  return gi;
}
const dashStyle={color:'#000',width:1.6,type:[16,18]};
const solid={color:'#000',width:1.6};
// row 1
[[a1Rows,[a1P3,a1P10,a1P30,a1P50,a1P100],a1Text],[b1Rows,[b1P3,b1P10,b1P30,b1P50,b1P100],b1Text],[c1Rows,[c1P3,c1P10,c1P30,c1P50,c1P100],c1Text]]
.forEach((d,col)=>{
  const gi=addPanel(col,0);
  series.push(fieldSeries(gi,d[0]));
  d[1].forEach(p=>series.push(...lineSeries(gi,p,dashStyle,0.4)));
  series.push(textSeries(gi,d[2],'25.5px '+FONT));
});
// row 2
[[a2Rows,[a2Loop1,a2Loop2,a2Loop3]],[b2Rows,[b2Loop1,b2Loop2]],[c2Rows,[c2Loop1,c2Loop2]]]
.forEach((d,col)=>{
  const gi=addPanel(col,1);
  series.push(fieldSeries(gi,d[0]));
  d[1].forEach((p,k)=>series.push(...lineSeries(gi,p,{color:'#000',width:[5.5,3.5,1.6][k]},k===2?false:0.45)));
});
// row 3
[[[a3F27,a3F24,a3F21,a3F18,a3F15,a3F12,a3F09,a3F06,a3F03],[a3C8,a3C7,a3C6,a3C5,a3C4,a3C3,a3C2,a3C1],a3Text],
 [[b3F27,b3F24,b3F21,b3F18,b3F15,b3F12,b3F09,b3F06,b3F03],[b3C9,b3C8,b3C7,b3C6,b3C5,b3C4,b3C3,b3C2,b3C1],b3Text],
 [[c3F27,c3F24,c3F21,c3F18,c3F15,c3F12,c3F09,c3F06,c3F03],[c3C9,c3C8,c3C7,c3C6,c3C5,c3C4,c3C3,c3C2,c3C1],c3Text]]
.forEach((d,col)=>{
  const gi=addPanel(col,2,ch4Colors[9]);
  d[0].forEach((f,k)=>series.push(fillSeries(gi,f,ch4Colors[8-k])));
  d[1].forEach(p=>series.push(...lineSeries(gi,p,solid,0.3)));
  series.push(textSeries(gi,d[2],'36px '+FONT));
});
// colour bars
function barGrid(top,height,min,max,ticks,pad){
  const gi=grids.length;
  grids.push({left:1918,top,width:37,height,containLabel:false});
  xAxes.push({gridIndex:gi,type:'value',min:0,max:1,show:false});
  yAxes.push({gridIndex:gi,type:'value',min,max,position:'right',axisLine:{show:false},axisTick:{show:false},splitLine:{show:false},
    axisLabel:{customValues:ticks,margin:33,color:'#000',formatter:v=>'{a|'+v.toFixed(1)+'}',
      rich:{a:{fontSize:32,fontFamily:FONT,color:'#000',padding:pad}}}});
  return gi;
}
function barSeries(gi,items){
  return {type:'custom',xAxisIndex:gi,yAxisIndex:gi,silent:true,animation:false,clip:true,data:items,encode:{y:[0,1]},
    renderItem(params,api){
      const a=api.coord([0,api.value(0)]),b=api.coord([1,api.value(1)]);
      const c=items[params.dataIndex][2];
      return {type:'rect',shape:{x:a[0],y:b[1],width:b[0]-a[0],height:a[1]-b[1]},style:{fill:c,stroke:c,lineWidth:0.5}};
    }};
}
const gH=barGrid(395,484,1.948,6.955,h2oBarTicks,[6,0,0,0]);
series.push(barSeries(gH,bandColors.map((c,k)=>[BAND0+k*BANDSTEP-0.05,BAND0+k*BANDSTEP+0.05,c])));
const gC=barGrid(1160,451,0,3,ch4BarTicks,[0,0,5,0]);
series.push(barSeries(gC,ch4Levels.map((v,k)=>[v,v+0.3,ch4Colors[k]])));

// ---------- text ----------
function txt(text,x,y,font,fill,align,rich){
  return {type:'text',z:20,silent:true,style:{text,x,y,font,fill:fill||'#000',textAlign:align||'center',textVerticalAlign:'middle',rich}};
}
const boldRich={b:{font:'bold 37px '+FONT,fill:'#000'},s:{font:'bold 25px '+FONT,fill:'#000',verticalAlign:'bottom'}};
const normRich={b:{font:'34px '+FONT,fill:'#000'},s:{font:'23px '+FONT,fill:'#000',verticalAlign:'bottom'}};
const graphicEls=[
  txt('CLaMS-ERA',604,43,'42px '+FONT),txt('CLaMS-JRA',1151,53,'42px '+FONT),txt('CLaMS-MRA',1689,53,'42px '+FONT),
  txt('{b|H}{s|2}{b|O}',142,267,'bold 37px '+FONT,'#000','center',boldRich),
  txt('simulation',142,314,'bold 37px '+FONT),
  txt('{b|H}{s|2}{b|O without}',143,748,'bold 37px '+FONT,'#000','center',boldRich),
  txt('{b|CH}{s|4}{b| oxidation}',143,794,'bold 37px '+FONT,'#000','center',boldRich),
  txt('{b|CH}{s|4}{b| oxidation}',148,1332,'bold 37px '+FONT,'#000','center',boldRich),
  txt('contribution',143,1378,'bold 37px '+FONT),
  txt('Latitude [\u00b0 N]',570,1673,'29px '+FONT),txt('Latitude [\u00b0 N]',1108,1673,'29px '+FONT),txt('Latitude [\u00b0 N]',1654,1673,'29px '+FONT),
  txt('{b|H}{s|2}{b|O [ppmv]}',1918,369,'34px '+FONT,'#000','left',normRich),
  txt('{b|H}{s|2}{b|O}{s|CH4}',1918,1105,'34px '+FONT,'#000','left',normRich),
  txt('[ppmv]',1918,1136,'34px '+FONT,'#000','left'),
];
[['(a1)',468,122],['(b1)',1012,122],['(c1)',1556,122],['(a2)',473,654],['(b2)',1018,653],['(c2)',1562,652],['(a3)',470,1212],['(b3)',1016,1211],['(c3)',1560,1211]]
.forEach(p=>graphicEls.push(txt(p[0],p[1],p[2],'bold 41px '+FONT,'#fff')));

const chart=echarts.init(document.getElementById('c'),null,{renderer:'canvas',width:2114,height:1710});
chart.setOption({animation:false,backgroundColor:'#fff',textStyle:{fontFamily:FONT},grid:grids,xAxis:xAxes,yAxis:yAxes,series,graphic:{elements:graphicEls}});
</script></body></html>
